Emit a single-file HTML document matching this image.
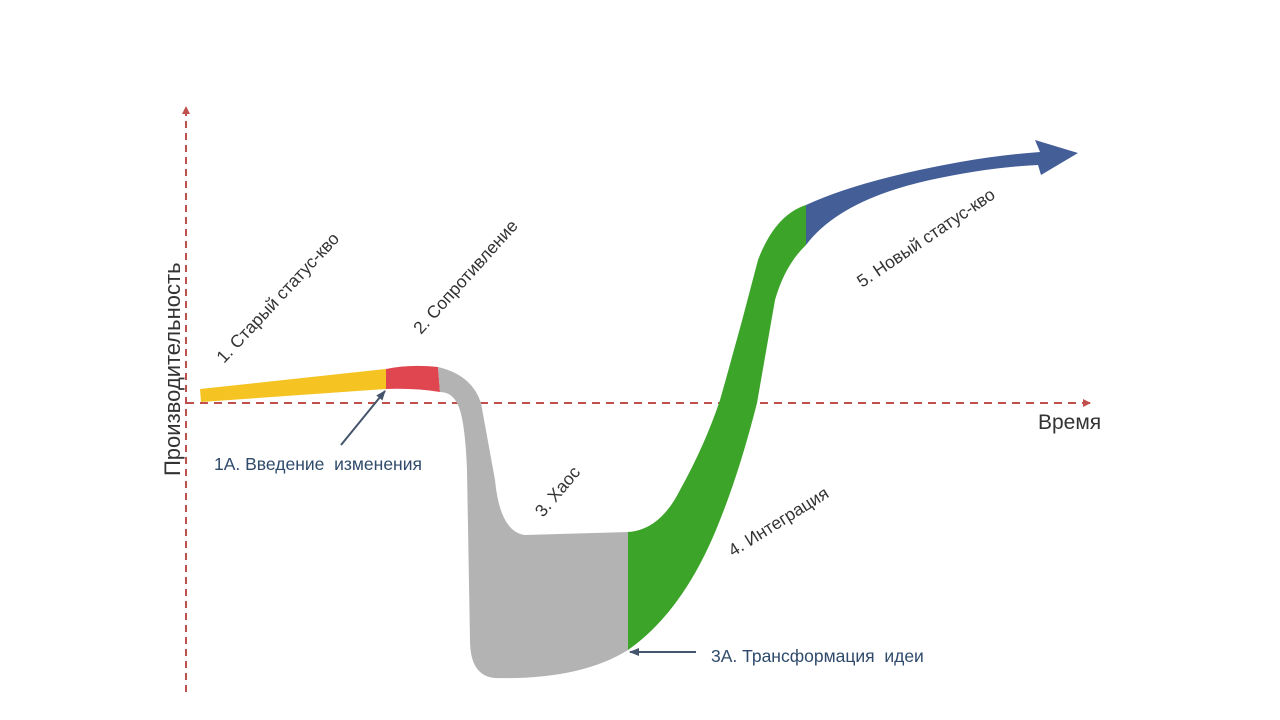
<!DOCTYPE html>
<html><head><meta charset="utf-8"><style>
html,body{margin:0;padding:0;background:#fff;}
svg{display:block;font-family:"Liberation Sans","DejaVu Sans",sans-serif;}
</style></head><body>
<svg width="1280" height="720" viewBox="0 0 1280 720" xmlns="http://www.w3.org/2000/svg">
<defs>
<marker id="ra" markerWidth="8" markerHeight="8" refX="7" refY="4" orient="auto" markerUnits="userSpaceOnUse"><path d="M0,0 L8,4 L0,8 z" fill="#c0504d"/></marker>
<marker id="ba" markerWidth="10" markerHeight="10" refX="9" refY="5" orient="auto" markerUnits="userSpaceOnUse"><path d="M0,1 L10,5 L0,9 z" fill="#44546a"/></marker>
</defs>
<line x1="186" y1="692" x2="186" y2="107" stroke="#c0504d" stroke-width="2" stroke-dasharray="7,5" marker-end="url(#ra)"/>
<line x1="186" y1="403" x2="1090" y2="403" stroke="#c0504d" stroke-width="2" stroke-dasharray="8,6" marker-end="url(#ra)"/>
<path d="M200,389 L386,369 L386,389 L201,402 Z" fill="#f5c423"/>
<path d="M386,369 Q410,364 438,367 L440,392 Q415,388 386,389 Z" fill="#e04650"/>
<path d="M438,367 Q472,375 481,403 L495,480 Q500,532 525,535 L628,532 L628,650 Q580,680 495,678 Q470,676 470,640 L467,470 Q465,420 458,405 Q452,392 440,392 Z" fill="#b3b3b3"/>
<path d="M628,532 Q660,530 680,490 Q705,445 720,400 Q740,330 758,260 Q775,215 806,205 L806,245 Q785,265 775,300 L757,403 Q740,470 720,520 Q685,610 628,650 Z" fill="#3da42a"/>
<path d="M806,205 Q860,180 960,162 Q1000,155 1040,152 L1035,140 L1078,153 L1041,175 L1038,165 Q990,167 930,180 Q840,200 806,245 Z" fill="#445e98"/>
<line x1="341" y1="445" x2="385" y2="391" stroke="#44546a" stroke-width="2" marker-end="url(#ba)"/>
<line x1="696" y1="652" x2="630" y2="652" stroke="#44546a" stroke-width="2" marker-end="url(#ba)"/>
<text x="0" y="0" font-size="22" fill="#333" transform="translate(180,476) rotate(-90)">Производительность</text>
<text x="1038" y="429" font-size="21" fill="#333">Время</text>
<text x="214" y="470" font-size="17.5" fill="#2f4a6a">1A. Введение&#160; изменения</text>
<text x="711" y="662" font-size="17.5" fill="#2f4a6a">3A. Трансформация&#160; идеи</text>
<g font-size="17.5" fill="#333">
<text transform="translate(224,364) rotate(-47)">1. Старый статус-кво</text>
<text transform="translate(421,335) rotate(-48)">2. Сопротивление</text>
<text transform="translate(543,518) rotate(-50)">3. Хаос</text>
<text transform="translate(733,557) rotate(-32)">4. Интеграция</text>
<text transform="translate(862,288) rotate(-34)">5. Новый статус-кво</text>
</g>
</svg>
</body></html>
